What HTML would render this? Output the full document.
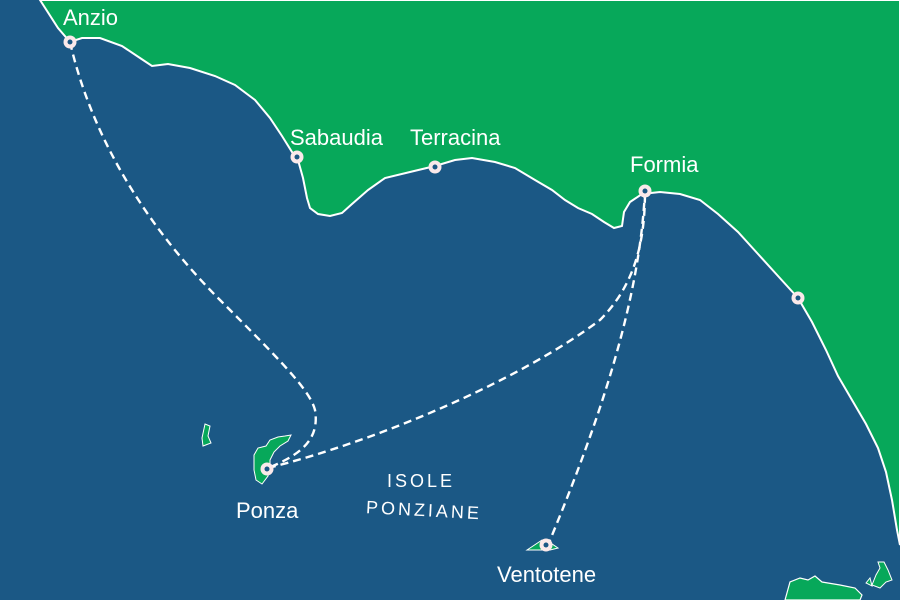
<!DOCTYPE html>
<html><head><meta charset="utf-8"><style>
html,body{margin:0;padding:0;width:900px;height:600px;overflow:hidden;background:#1b5885}
svg{display:block}
text{font-family:"Liberation Sans",sans-serif;fill:#fff}
</style></head><body>
<svg width="900" height="600" viewBox="0 0 900 600">
<rect width="900" height="600" fill="#1b5885"/>
<path d="M40,0 L58,28 L70,42 L82,38 L100,38 L122,46 L140,58 L152,66 L168,64 L190,68 L215,76 L235,85 L255,100 L270,118 L282,136 L292,152 L298,160 L303,178 L307,198 L310,208 L318,214 L330,216 L342,213 L352,204 L368,190 L385,178 L410,172 L435,166 L455,160 L472,158 L495,162 L515,168 L535,180 L552,190 L565,200 L578,208 L592,214 L604,222 L614,228 L622,226 L624,212 L630,202 L642,194 L660,192 L680,194 L700,200 L718,214 L738,232 L758,254 L778,276 L798,298 L812,322 L826,350 L838,376 L852,400 L866,424 L878,448 L886,472 L892,500 L897,530 L900,545 L900,0 Z" fill="#07a85a" stroke="#fff" stroke-width="2"/>
<path d="M785,600 L790,582 L800,578 L808,580 L815,576 L822,582 L840,585 L855,588 L862,595 L860,600 Z" fill="#07a85a" stroke="#fff" stroke-width="1.2"/>
<path d="M872,585 L876,575 L880,568 L878,562 L884,562 L888,570 L892,580 L886,582 L880,588 Z M866,583 L870,578 L872,586 Z" fill="#07a85a" stroke="#fff" stroke-width="1"/>
<path d="M205,424 L210,426 L208,436 L211,443 L203,446 L202,438 Z" fill="#07a85a" stroke="#fff" stroke-width="1"/>
<path d="M254,470 L254,455 L258,448 L266,446 L270,440 L278,437 L285,436 L291,435 L288,441 L280,446 L274,452 L270,460 L270,468 L268,476 L262,484 L256,480 Z" fill="#07a85a" stroke="#fff" stroke-width="1"/>
<path d="M527,550 L536,544 L542,540 L552,544 L558,548 L550,550 Z" fill="#07a85a" stroke="#fff" stroke-width="1"/>
<g fill="none" stroke="#fff" stroke-width="2.4" stroke-dasharray="8,5">
<path d="M70,42 C90,130 140,220 220,300 C280,360 310,390 315,410 C320,440 300,455 268,468"/>
<path d="M268,468 C380,440 520,380 600,320 C640,280 645,230 645,190"/>
<path d="M645,190 C640,300 600,420 548,545"/>
</g>
<g fill="#fbe9ea">
<circle cx="70" cy="42" r="6.5"/><circle cx="297" cy="157" r="6.5"/><circle cx="435" cy="167" r="6.5"/><circle cx="645" cy="191" r="6.5"/><circle cx="798" cy="298" r="6.5"/><circle cx="267" cy="469" r="6.5"/><circle cx="546" cy="545" r="6.5"/>
</g>
<g fill="#1b5885">
<circle cx="70" cy="42" r="2.5"/><circle cx="297" cy="157" r="2.5"/><circle cx="435" cy="167" r="2.5"/><circle cx="645" cy="191" r="2.5"/><circle cx="798" cy="298" r="2.5"/><circle cx="267" cy="469" r="2.5"/><circle cx="546" cy="545" r="2.5"/>
</g>
<g font-size="22">
<text x="63" y="25">Anzio</text>
<text x="290" y="145">Sabaudia</text>
<text x="410" y="145">Terracina</text>
<text x="630" y="172">Formia</text>
<text x="236" y="518">Ponza</text>
<text x="497" y="582">Ventotene</text>
</g>
<text x="387" y="487" font-size="18" letter-spacing="3">ISOLE</text>
<text x="366" y="516" font-size="18" letter-spacing="3" transform="rotate(3 420 510)">PONZIANE</text>
</svg>
</body></html>
